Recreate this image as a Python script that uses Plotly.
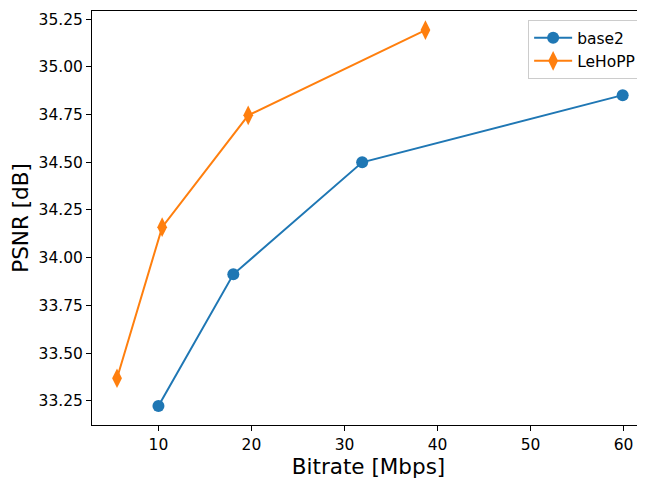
import plotly.graph_objects as go

base2_x = [10.0, 18.05, 31.9, 59.9]
base2_y = [33.223, 33.913, 34.500, 34.852]
lehopp_x = [5.55, 10.4, 19.65, 38.7]
lehopp_y = [33.368, 34.160, 34.746, 35.193]

y_ticks = [33.25, 33.50, 33.75, 34.00, 34.25, 34.50, 34.75, 35.00, 35.25]
x_ticks = [10, 20, 30, 40, 50, 60]

fig = go.Figure()
fig.add_trace(go.Scatter(x=base2_x, y=base2_y, mode="lines+markers", name="base2",
                         line=dict(color="#1f77b4", width=2),
                         marker=dict(symbol="circle", size=12, color="#1f77b4")))
fig.add_trace(go.Scatter(x=lehopp_x, y=lehopp_y, mode="lines+markers", name="LeHoPP",
                         line=dict(color="#ff7f0e", width=2),
                         marker=dict(symbol="diamond-tall", size=14, color="#ff7f0e")))

axis_common = dict(showgrid=False, zeroline=False, showline=True, linecolor="black",
                   linewidth=1, ticks="outside", ticklen=5, tickcolor="black",
                   tickfont=dict(family="DejaVu Sans", size=15.5, color="black"))
title_font = dict(family="DejaVu Sans", size=21.5, color="black")
fig.update_xaxes(range=[2.86, 62.3], tickvals=x_ticks, ticktext=[str(v) for v in x_ticks],
                 title=dict(text="Bitrate [Mbps]", font=title_font, standoff=4),
                 mirror=True, **axis_common)
fig.update_yaxes(range=[33.123, 35.293], tickvals=y_ticks, ticktext=[f"{v:.2f}" for v in y_ticks],
                 title=dict(text="PSNR [dB]", font=title_font, standoff=6),
                 mirror=False, **axis_common)
fig.update_layout(width=637, height=471, margin=dict(l=84, r=0, t=3, b=54),
                  plot_bgcolor="white", paper_bgcolor="white",
                  font=dict(family="DejaVu Sans", color="black"),
                  legend=dict(x=0.993, y=0.978, xanchor="right", yanchor="top",
                              bordercolor="#cccccc", borderwidth=1, bgcolor="rgba(255,255,255,0.8)",
                              font=dict(family="DejaVu Sans", size=15.5, color="black"),
                              tracegroupgap=0, itemwidth=38),
                  showlegend=True)
fig.write_html("out.html")
